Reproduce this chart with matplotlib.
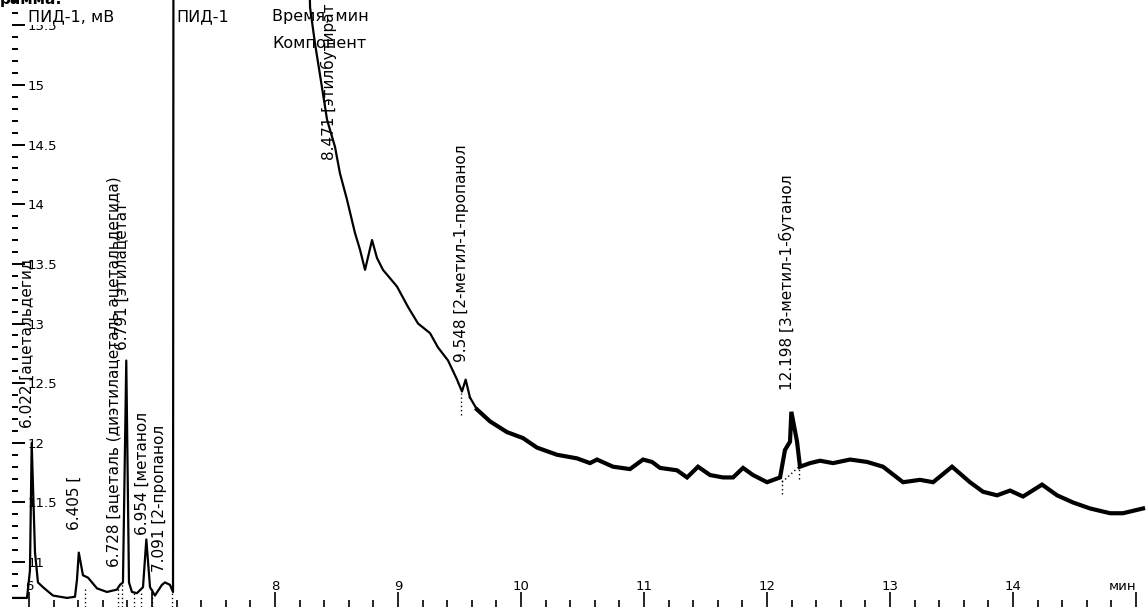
import numpy as np
import matplotlib.pyplot as plt
from matplotlib.ticker import MultipleLocator, FixedLocator

plt.rcParams['font.family'] = ['DejaVu Sans']

# сигнал ПИД-1: время (мин) и сигнал (мВ)
time_min = [5.862, 5.984, 6.008, 6.022, 6.049, 6.073, 6.114, 6.195, 6.309, 6.374,
            6.390, 6.405, 6.439, 6.480, 6.553, 6.634, 6.715, 6.740, 6.764, 6.791,
            6.813, 6.837, 6.878, 6.927, 6.954, 6.984, 7.024, 7.081, 7.106, 7.146,
            7.171, 7.175, 8.260, 8.285, 8.325, 8.382, 8.423, 8.488, 8.528, 8.585,
            8.650, 8.691, 8.732, 8.789, 8.829, 8.878, 8.992, 9.081, 9.163, 9.260,
            9.325, 9.407, 9.480, 9.520, 9.550, 9.585, 9.642, 9.748, 9.886, 10.016,
            10.130, 10.293, 10.455, 10.561, 10.618, 10.748, 10.886, 10.992, 11.065, 11.130,
            11.268, 11.350, 11.439, 11.537, 11.642, 11.724, 11.805, 11.886, 12.000, 12.106,
            12.146, 12.187, 12.198, 12.244, 12.268, 12.350, 12.431, 12.537, 12.675, 12.813,
            12.943, 13.106, 13.244, 13.350, 13.504, 13.650, 13.756, 13.870, 13.976, 14.081,
            14.236, 14.358, 14.488, 14.626, 14.789, 14.894, 15.057]
signal_mv = [10.70, 10.70, 10.93, 12.00, 11.08, 10.83, 10.79, 10.72, 10.70, 10.71,
             10.85, 11.08, 10.89, 10.87, 10.78, 10.75, 10.77, 10.81, 10.83, 12.69,
             10.83, 10.75, 10.74, 10.79, 11.19, 10.79, 10.72, 10.81, 10.83, 10.81,
             10.75, 17.00, 17.00, 15.65, 15.35, 14.98, 14.71, 14.48, 14.26, 14.04,
             13.76, 13.62, 13.45, 13.70, 13.55, 13.45, 13.31, 13.14, 13.00, 12.92,
             12.80, 12.69, 12.53, 12.43, 12.53, 12.38, 12.28, 12.18, 12.09, 12.04,
             11.96, 11.90, 11.87, 11.83, 11.86, 11.80, 11.78, 11.86, 11.84, 11.79,
             11.77, 11.71, 11.80, 11.73, 11.71, 11.71, 11.79, 11.73, 11.67, 11.71,
             11.94, 12.01, 12.26, 12.01, 11.80, 11.83, 11.85, 11.83, 11.86, 11.84,
             11.80, 11.67, 11.69, 11.67, 11.80, 11.67, 11.59, 11.56, 11.60, 11.55,
             11.65, 11.56, 11.50, 11.45, 11.41, 11.41, 11.45]

# подписи пиков
peak_times = [6.022, 6.405, 6.728, 6.791, 6.954, 7.091, 8.471, 9.548, 12.198]
peak_names = ['ацетальдегид', '', 'ацеталь (диэтилацеталь ацетальдегида)', 'этилацетат',
              'метанол', '2-пропанол', 'этилбутират', '2-метил-1-пропанол',
              '3-метил-1-бутанол']
label_levels = [12.125, 11.27, 10.96, 12.78, 11.23, 10.92, 14.37, 12.68, 12.44]

# базовые линии интегрирования
base_t = [[12.122, 12.260]]
base_v = [[11.67, 11.80]]
drop_t = [6.455, 6.720, 6.760, 6.850, 6.910, 7.000, 7.160, 9.512, 12.122, 12.260]
drop_top = [10.78, 10.80, 10.82, 10.75, 10.76, 10.78, 10.80, 12.42, 11.70, 11.82]
drop_bottom = [10.62, 10.62, 10.62, 10.62, 10.62, 10.62, 10.62, 12.23, 11.57, 11.70]

x_ticks = [6, 7, 8, 9, 10, 11, 12, 13, 14, 15]
x_tick_labels = ['6', '', '8', '9', '10', '11', '12', '13', '14', 'мин']
y_ticks = [11, 11.5, 12, 12.5, 13, 13.5, 14, 14.5, 15, 15.5]
y_tick_labels = ['11', '11.5', '12', '12.5', '13', '13.5', '14', '14.5', '15', '15.5']

fig = plt.figure(figsize=(11.46, 6.07), dpi=100)
ax = fig.add_axes([12 / 1146, 0, 1134 / 1146, 1])

t = np.array(time_min)
v = np.array(signal_mv)
early = t <= 9.6
ax.plot(t[early], v[early], color='black', lw=1.6)
ax.plot(t[~early], v[~early], color='black', lw=3.0, solid_joinstyle='miter')
ax.plot([t[early][-1], t[~early][0]], [v[early][-1], v[~early][0]], color='black', lw=1.6)

for bt, bv in zip(base_t, base_v):
    ax.plot(bt, bv, color='black', lw=1.0, ls=(0, (1, 2)))
ax.vlines(drop_t, drop_bottom, drop_top, color='black', lw=1.0, linestyles=(0, (1, 2)))

for pt, name, lv in zip(peak_times, peak_names, label_levels):
    txt = '%.3f [%s' % (pt, name)
    ax.annotate(txt, xy=(pt, lv), xytext=(-3, 0), textcoords='offset points',
                rotation=90, ha='center', va='bottom', fontsize=11,
                annotation_clip=False)

ax.set_xlim(5.862, 15.081)
ax.set_ylim(10.624, 15.712)

for s in ax.spines.values():
    s.set_visible(False)

ax.xaxis.set_major_locator(FixedLocator(x_ticks))
ax.set_xticklabels(x_tick_labels)
ax.xaxis.set_minor_locator(MultipleLocator(0.2))
ax.yaxis.set_major_locator(FixedLocator(y_ticks))
ax.set_yticklabels(y_tick_labels)
ax.yaxis.set_minor_locator(MultipleLocator(0.1))

ax.tick_params(axis='x', which='major', direction='in', length=11, width=1.2,
               pad=-10, labelsize=9.5)
ax.tick_params(axis='x', which='minor', direction='in', length=5, width=1.2)
ax.tick_params(axis='y', which='major', direction='in', length=9, width=1.4,
               pad=-11, labelsize=9.5)
ax.tick_params(axis='y', which='minor', direction='in', length=4, width=1.4)
for lab in ax.get_xticklabels():
    lab.set_verticalalignment('bottom')
ax.get_xticklabels()[-1].set_horizontalalignment('right')
for lab in ax.get_yticklabels():
    lab.set_horizontalalignment('left')

# шапка
fig.text(28 / 1146, 1 - 17 / 607, 'ПИД-1, мВ', fontsize=11.5, va='center', ha='left',
         bbox=dict(facecolor='white', edgecolor='none', pad=0.5))
fig.text(176 / 1146, 1 - 17 / 607, 'ПИД-1', fontsize=11.5, va='center', ha='left')
fig.text(272 / 1146, 1 - 17 / 607, 'Время, мин', fontsize=11.5, va='center', ha='left')
fig.text(272 / 1146, 1 - 44 / 607, 'Компонент', fontsize=11.5, va='center', ha='left')
fig.text(0, 1 - 4 / 607, 'рамма:', fontsize=11, fontweight='bold', va='baseline', ha='left')

fig.savefig('out.png', dpi=100)
